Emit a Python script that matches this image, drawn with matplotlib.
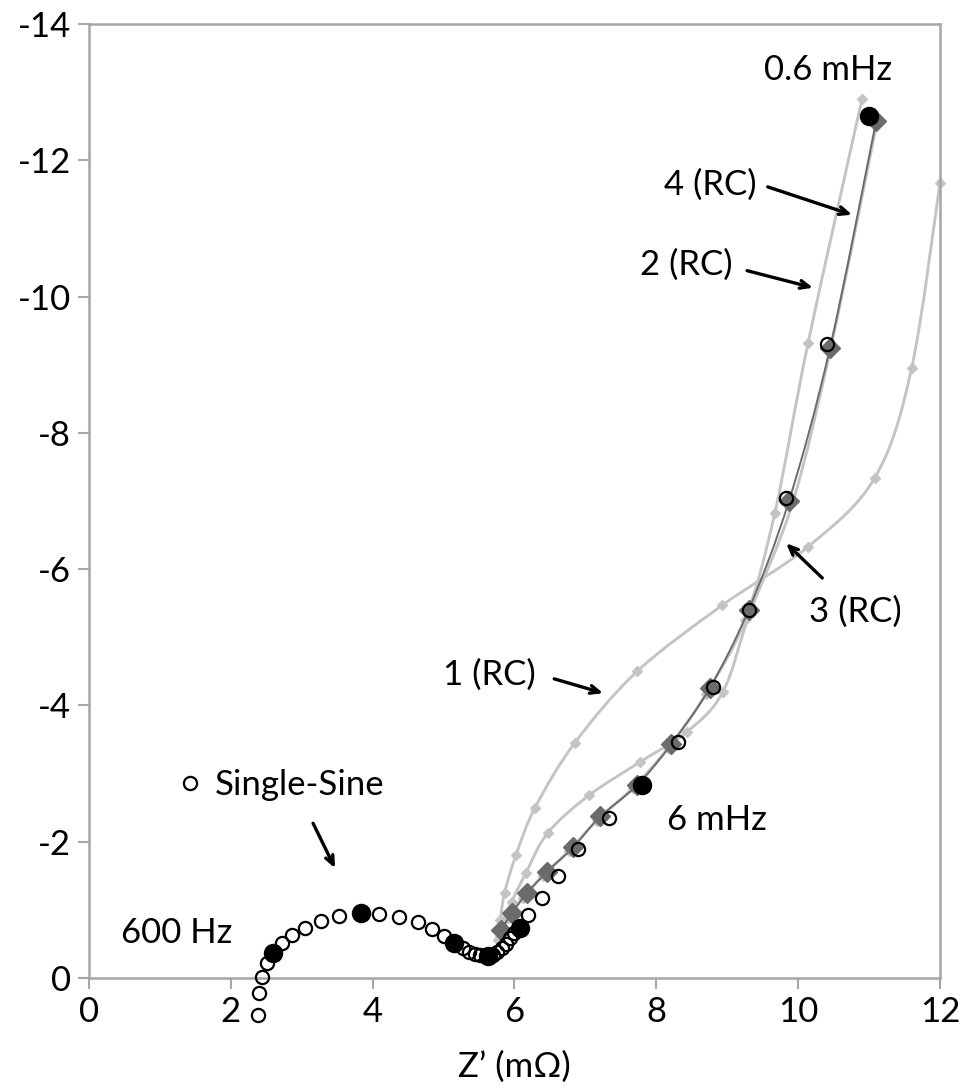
import numpy as np
import matplotlib
matplotlib.use("Agg")
import matplotlib.pyplot as plt
from matplotlib.path import Path
from matplotlib.patches import PathPatch

plt.rcParams["font.family"] = ["Lato", "DejaVu Sans"]
plt.rcParams["axes.unicode_minus"] = False

# single-sine spectrum (open circles) and the highlighted frequencies (filled)
ss_x = [2.38, 2.40, 2.44, 2.51, 2.72, 2.86, 3.05, 3.27, 3.53, 4.09, 4.37, 4.64,
        4.84, 5.01, 5.28, 5.36, 5.44, 5.51, 5.70, 5.76, 5.82, 5.88, 5.93, 5.99,
        6.19, 6.39, 6.61, 6.90, 7.33, 8.30, 8.80, 9.30, 9.83, 10.40]
ss_y = [0.54, 0.22, -0.01, -0.22, -0.51, -0.63, -0.73, -0.84, -0.91, -0.94, -0.90, -0.82,
        -0.72, -0.62, -0.44, -0.38, -0.35, -0.33, -0.34, -0.38, -0.44, -0.50, -0.58, -0.66,
        -0.93, -1.17, -1.49, -1.89, -2.35, -3.46, -4.27, -5.40, -7.04, -9.30]
key_x = [2.60, 3.83, 5.15, 5.62, 6.08, 7.80, 11.00]
key_y = [-0.37, -0.95, -0.52, -0.32, -0.74, -2.83, -12.65]

# equivalent-circuit fits with 1..4 RC elements
rc1_x = [5.77, 5.80, 5.86, 6.02, 6.29, 6.85, 7.73, 8.93, 10.14, 11.08, 11.60, 12.00]
rc1_y = [-0.55, -0.85, -1.25, -1.80, -2.50, -3.45, -4.50, -5.47, -6.33, -7.34, -8.95, -11.67]
rc2_x = [5.79, 5.92, 6.12, 6.40, 6.77, 7.16, 7.67, 8.16, 8.70, 9.25, 9.67, 10.14, 10.90]
rc2_y = [-0.62, -0.88, -1.18, -1.50, -1.87, -2.31, -2.79, -3.37, -4.17, -5.25, -6.82, -9.32, -12.90]
rc3_x = [5.82, 5.96, 6.16, 6.47, 7.05, 7.77, 8.43, 8.94, 9.32, 9.93, 10.47, 11.12]
rc3_y = [-0.80, -1.12, -1.54, -2.13, -2.68, -3.17, -3.61, -4.20, -5.36, -7.00, -9.30, -12.60]
rc4_x = [5.81, 5.96, 6.18, 6.46, 6.83, 7.21, 7.73, 8.21, 8.75, 9.30, 9.87, 10.45, 11.10]
rc4_y = [-0.70, -0.95, -1.25, -1.56, -1.92, -2.37, -2.83, -3.43, -4.25, -5.40, -7.00, -9.25, -12.58]

LIGHT = "#c4c4c4"
DARK = "#6b6b6b"
FRAME = "#a6a6a6"
ARROW = "->,head_length=0.65,head_width=0.28"


def smooth_path(xs, ys):
    """Catmull-Rom curve through the points, as cubic Bezier segments."""
    p = np.column_stack([xs, ys]).astype(float)
    ext = np.vstack([p[0], p, p[-1]])
    verts = [p[0]]
    codes = [Path.MOVETO]
    for i in range(1, len(ext) - 2):
        p0, p1, p2, p3 = ext[i - 1], ext[i], ext[i + 1], ext[i + 2]
        verts += [p1 + (p2 - p0) / 6.0, p2 - (p3 - p1) / 6.0, p2]
        codes += [Path.CURVE4] * 3
    return Path(verts, codes)


fig = plt.figure(figsize=(9.65, 10.91), dpi=100)
ax = fig.add_axes([0.0922, 0.1036, 0.8819, 0.8744])

for xs, ys in [(rc1_x, rc1_y), (rc2_x, rc2_y), (rc3_x, rc3_y)]:
    ax.add_patch(PathPatch(smooth_path(xs, ys), fc="none", ec=LIGHT, lw=2.1,
                           zorder=2, clip_on=False))
    ax.plot(xs, ys, ls="none", marker="D", ms=5, color=LIGHT, zorder=2.1,
            clip_on=False)

ax.add_patch(PathPatch(smooth_path(rc4_x, rc4_y), fc="none", ec=DARK, lw=1.4,
                       zorder=3, clip_on=False))
ax.plot(rc4_x, rc4_y, ls="none", marker="D", ms=10, color=DARK, zorder=3.1,
        clip_on=False)

ax.plot(ss_x, ss_y, ls="none", marker="o", ms=9.5, mfc="none", mec="black",
        mew=1.6, zorder=4, clip_on=False)
ax.plot(key_x, key_y, ls="none", marker="o", ms=13, color="black", zorder=5,
        clip_on=False)

ax.set_xlim(0, 12)
ax.set_ylim(0, -14)
ax.set_xticks(np.arange(0, 13, 2))
ax.set_yticks(np.arange(0, -15, -2))
ax.tick_params(direction="out", length=8, width=1.5, color=FRAME,
               labelsize=25, pad=5)
for sp in ax.spines.values():
    sp.set_color(FRAME)
    sp.set_linewidth(1.8)
ax.set_xlabel("Z\u2019 (m\u03a9)", fontsize=25, labelpad=16)

fs = 25
ax.text(10.42, -13.18, "0.6 mHz", fontsize=fs, ha="center", va="baseline")
ax.text(8.85, -2.17, "6 mHz", fontsize=fs, ha="center", va="baseline")
ax.text(1.24, -0.51, "600 Hz", fontsize=fs, ha="center", va="baseline")
ax.text(1.78, -2.69, "Single-Sine", fontsize=fs, ha="left", va="baseline")
ax.plot([1.42], [-2.86], ls="none", marker="o", ms=9.5, mfc="none", mec="black",
        mew=1.6)

labels = [
    ("4 (RC)", 8.76, -11.49, (9.57, -11.61), (10.76, -11.20)),
    ("2 (RC)", 8.42, -10.32, (9.28, -10.38), (10.21, -10.13)),
    ("3 (RC)", 10.80, -5.22, (10.34, -5.87), (9.83, -6.38)),
    ("1 (RC)", 5.65, -4.30, (6.56, -4.39), (7.25, -4.18)),
    (None, 0, 0, (3.16, -2.27), (3.47, -1.61)),
]
for txt, tx, ty, start, tip in labels:
    if txt:
        ax.text(tx, ty, txt, fontsize=fs, ha="center", va="baseline")
    ax.annotate("", xy=tip, xytext=start,
                arrowprops=dict(arrowstyle=ARROW, lw=2.4, color="black",
                                shrinkA=0, shrinkB=0))

fig.savefig("out.png", dpi=100)
